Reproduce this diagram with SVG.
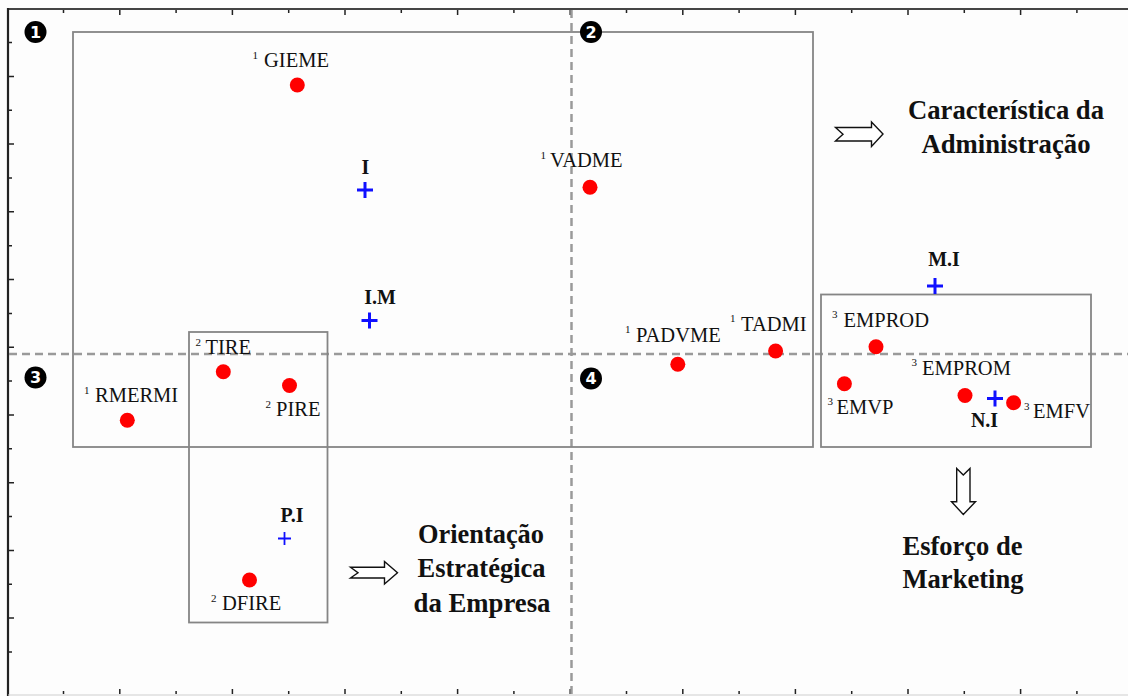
<svg xmlns="http://www.w3.org/2000/svg" width="1128" height="696" viewBox="0 0 1128 696">
<defs>
<style>
.lbl{font-family:"Liberation Serif","Times New Roman",serif;font-size:20.5px;fill:#111}
.sup{font-family:"Liberation Serif","Times New Roman",serif;font-size:11px;fill:#111}
.blbl{font-family:"Liberation Serif","Times New Roman",serif;font-size:20px;font-weight:bold;fill:#111;text-anchor:middle}
.big{font-family:"Liberation Serif","Times New Roman",serif;font-size:27.5px;font-weight:bold;fill:#111;text-anchor:middle}
.dot{fill:#ff0000}
.cross{stroke:#1010ff;stroke-width:3;fill:none}
.box{fill:none;stroke:#858585;stroke-width:1.8}
.dash{stroke:#9a9a9a;stroke-width:2.5;stroke-dasharray:8 5;fill:none}
.tick{stroke:#222;stroke-width:1.5}
.qc{fill:#000}
.qt{font-family:"DejaVu Sans","Liberation Sans",sans-serif;font-size:16px;font-weight:bold;fill:#fff;text-anchor:middle}
.arr{fill:#fff;stroke:#111;stroke-width:1.4;stroke-linejoin:miter}
</style>
</defs>
<rect x="0" y="0" width="1128" height="696" fill="#fdfdfd"/>
<g id="frame">
<line x1="8" y1="9" x2="1128" y2="9" stroke="#444" stroke-width="2"/>
<line x1="8" y1="8" x2="8" y2="696" stroke="#222" stroke-width="2.2"/>
<line x1="8" y1="695" x2="1128" y2="695" stroke="#cfcfcf" stroke-width="1.2"/>
<path class="tick" d="M63.5 10v3M119.8 10v5M176.1 10v3M232.4 10v5M288.7 10v3M345 10v5M401.3 10v3M457.6 10v5M513.9 10v3M570.2 10v5M626.5 10v3M682.8 10v5M739.1 10v3M795.4 10v5M851.7 10v3M908 10v5M964.3 10v3M1020.6 10v5M1076.9 10v3"/>
<path class="tick" d="M63.5 694v-3M119.8 694v-5M176.1 694v-3M232.4 694v-5M288.7 694v-3M345 694v-5M401.3 694v-3M457.6 694v-5M513.9 694v-3M570.2 694v-5M626.5 694v-3M682.8 694v-5M739.1 694v-3M795.4 694v-5M851.7 694v-3M908 694v-5M964.3 694v-3M1020.6 694v-5M1076.9 694v-3"/>
<path class="tick" d="M9 42.5h3M9 76.4h5M9 110.2h3M9 144.1h5M9 177.9h3M9 211.8h5M9 245.7h3M9 279.5h5M9 313.4h3M9 347.2h5M9 381.1h3M9 415h5M9 448.8h3M9 482.7h5M9 516.5h3M9 550.4h5M9 584.2h3M9 618.1h5M9 652h3"/>
</g>
<g id="quadrant-lines">
<line class="dash" x1="571.5" y1="10" x2="571.5" y2="696"/>
<line class="dash" x1="9" y1="354" x2="1128" y2="354"/>
</g>
<g id="groups">
<rect id="box-admin" class="box" x="73" y="32" width="740" height="415"/>
<rect id="box-orient" class="box" x="189" y="332" width="138.5" height="290.5"/>
<rect id="box-mkt" class="box" x="821" y="294.5" width="270" height="152.5"/>
</g>
<g id="quadrants">
<g id="q1"><circle class="qc" cx="35.5" cy="32" r="11"/><text class="qt" x="35.5" y="37.8">1</text></g>
<g id="q2"><circle class="qc" cx="591" cy="32" r="11"/><text class="qt" x="591" y="37.8">2</text></g>
<g id="q3"><circle class="qc" cx="35.5" cy="377.5" r="11"/><text class="qt" x="35.5" y="383.3">3</text></g>
<g id="q4"><circle class="qc" cx="591" cy="378.5" r="11"/><text class="qt" x="591" y="384.3">4</text></g>
</g>
<g id="GIEME"><circle class="dot" cx="297.3" cy="85" r="7.5"/><text class="sup" x="252.5" y="58.5">1</text><text class="lbl" x="264" y="67">GIEME</text></g>
<g id="VADME"><circle class="dot" cx="590" cy="187.3" r="7.5"/><text class="sup" x="540.5" y="158.5">1</text><text class="lbl" x="550" y="167">VADME</text></g>
<g id="RMERMI"><circle class="dot" cx="127.3" cy="420.3" r="7.5"/><text class="sup" x="84" y="393.5">1</text><text class="lbl" x="95" y="402">RMERMI</text></g>
<g id="TIRE"><circle class="dot" cx="223.3" cy="371.7" r="7.5"/><text class="sup" x="195.5" y="345.5">2</text><text class="lbl" x="205.5" y="354">TIRE</text></g>
<g id="PIRE"><circle class="dot" cx="289.5" cy="385.5" r="7.5"/><text class="sup" x="265.5" y="407.5">2</text><text class="lbl" x="276" y="416">PIRE</text></g>
<g id="DFIRE"><circle class="dot" cx="249.5" cy="580" r="7.5"/><text class="sup" x="211" y="601.5">2</text><text class="lbl" x="222" y="610">DFIRE</text></g>
<g id="PADVME"><circle class="dot" cx="677.8" cy="364.3" r="7.5"/><text class="sup" x="625" y="333">1</text><text class="lbl" x="636" y="341.5">PADVME</text></g>
<g id="TADMI"><circle class="dot" cx="775.6" cy="351" r="7.5"/><text class="sup" x="730" y="322">1</text><text class="lbl" x="741" y="330.5">TADMI</text></g>
<g id="EMPROD"><circle class="dot" cx="876" cy="346.7" r="7.5"/><text class="sup" x="832" y="318">3</text><text class="lbl" x="843.5" y="326.5">EMPROD</text></g>
<g id="EMPROM"><circle class="dot" cx="965" cy="395.5" r="7.5"/><text class="sup" x="911.5" y="366">3</text><text class="lbl" x="922" y="374.5">EMPROM</text></g>
<g id="EMVP"><circle class="dot" cx="844.4" cy="383.7" r="7.5"/><text class="sup" x="827.5" y="405">3</text><text class="lbl" x="836.5" y="413.5">EMVP</text></g>
<g id="EMFV"><circle class="dot" cx="1013.6" cy="402.7" r="7.5"/><text class="sup" x="1024" y="409.5">3</text><text class="lbl" x="1033" y="418">EMFV</text></g>
<g id="I"><path class="cross" d="M357 190h16M365 182v16"/><text class="blbl" x="365.5" y="174">I</text></g>
<g id="IM"><path class="cross" d="M361.5 320.5h16M369.5 312.5v16"/><text class="blbl" x="380" y="304">I.M</text></g>
<g id="MI"><path class="cross" d="M927 286h16M935 278v16"/><text class="blbl" x="944" y="266">M.I</text></g>
<g id="NI"><path class="cross" d="M987 398.5h16M995 390.5v16"/><text class="blbl" x="984.5" y="426.5">N.I</text></g>
<g id="PI"><path class="cross" d="M278 538.5h13M284.5 532v13" style="stroke-width:1.8"/><text class="blbl" x="292" y="522">P.I</text></g>
<g id="caracteristica"><text class="big" x="1006" y="119" textLength="196" lengthAdjust="spacingAndGlyphs">Característica da</text><text class="big" x="1006" y="153" textLength="169" lengthAdjust="spacingAndGlyphs">Administração</text></g>
<g id="orientacao"><text class="big" x="481" y="543" textLength="126" lengthAdjust="spacingAndGlyphs">Orientação</text><text class="big" x="481.5" y="577" textLength="128" lengthAdjust="spacingAndGlyphs">Estratégica</text><text class="big" x="482" y="611.5" textLength="137" lengthAdjust="spacingAndGlyphs">da Empresa</text></g>
<g id="esforco"><text class="big" x="962.5" y="555" textLength="120" lengthAdjust="spacingAndGlyphs">Esforço de</text><text class="big" x="963" y="588" textLength="121" lengthAdjust="spacingAndGlyphs">Marketing</text></g>
<g id="connectors">
<path class="arr" d="M835.5 127.5H871.5V122L883 134L871.5 146.5V141H835.5L843 134.3Z"/>
<path class="arr" d="M350.5 567.3H384.5V561.5L397.5 572.7L384.5 584V578H350.5L358 572.7Z"/>
<path class="arr" d="M956.7 468.5L963.3 475L970 468.5V501.7H975.5L963.3 514.5L951.5 501.7H956.7Z"/>
</g>
</svg>
